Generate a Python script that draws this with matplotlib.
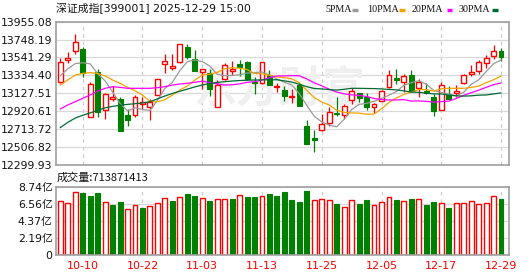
import matplotlib
matplotlib.use('Agg')
import matplotlib.pyplot as plt
import numpy as np
from matplotlib.lines import Line2D

plt.rcParams['font.family'] = ['DejaVu Sans', 'Noto Sans CJK SC']

# ---------------- data ----------------
dates = ['09-29', '09-30', '10-09', '10-10', '10-13', '10-14', '10-15', '10-16', '10-17', '10-20',
         '10-21', '10-22', '10-23', '10-24', '10-27', '10-28', '10-29', '10-30', '10-31', '11-03',
         '11-04', '11-05', '11-06', '11-07', '11-10', '11-11', '11-12', '11-13', '11-14', '11-17',
         '11-18', '11-19', '11-20', '11-21', '11-24', '11-25', '11-26', '11-27', '11-28', '12-01',
         '12-02', '12-03', '12-04', '12-05', '12-08', '12-09', '12-10', '12-11', '12-12', '12-15',
         '12-16', '12-17', '12-18', '12-19', '12-22', '12-23', '12-24', '12-25', '12-26', '12-29']

opens = [13262, 13515, 13614, 13637, 12852, 13369, 12932, 13062, 13059, 12879,
         12871, 13002, 12965, 13105, 13461, 13423, 13488, 13668, 13518, 13373,
         13357, 12967, 13288, 13388, 13465, 13488, 13254, 13243, 13338, 13200,
         13166, 13080, 13227, 12752, 12610, 12698, 12779, 12901, 12871, 13047,
         13128, 13082, 12963, 13039, 13197, 13300, 13262, 13338, 13185, 13158,
         13085, 12932, 13105, 13128, 13242, 13354, 13388, 13480, 13553, 13614]
highs = [13530, 13599, 13817, 13664, 13258, 13403, 13135, 13216, 13089, 12944,
         13101, 13087, 13055, 13292, 13580, 13580, 13702, 13702, 13626, 13407,
         13411, 13281, 13480, 13495, 13511, 13499, 13311, 13492, 13396, 13250,
         13212, 13173, 13242, 12813, 12706, 12890, 12964, 13082, 13001, 13185,
         13135, 13128, 13013, 13166, 13396, 13403, 13350, 13396, 13288, 13250,
         13120, 13258, 13212, 13223, 13350, 13449, 13511, 13572, 13687, 13656]
lows = [13243, 13472, 13576, 13319, 12848, 12848, 12825, 13036, 12687, 12744,
        12852, 12941, 12815, 13101, 13357, 13396, 13480, 13522, 13384, 13173,
        13097, 12963, 13281, 13338, 13327, 13281, 13120, 13235, 13223, 13143,
        13032, 13013, 12974, 12534, 12446, 12691, 12748, 12859, 12829, 13005,
        13020, 12936, 12898, 13032, 13193, 13235, 13147, 13147, 13089, 13124,
        12859, 12928, 13062, 13082, 13235, 13327, 13350, 13419, 13526, 13503]
closes = [13484, 13530, 13725, 13365, 13231, 12909, 13120, 13085, 12695, 12813,
          13082, 13020, 13024, 13288, 13495, 13442, 13695, 13541, 13388, 13403,
          13181, 13223, 13449, 13411, 13434, 13288, 13246, 13488, 13227, 13212,
          13098, 13090, 12982, 12541, 12591, 12771, 12910, 12882, 12978, 13151,
          13070, 12967, 12997, 13151, 13334, 13285, 13327, 13154, 13262, 13128,
          12917, 13220, 13066, 13151, 13334, 13377, 13488, 13534, 13614, 13549]

ma5 = [13330, 13410, 13470, 13480, 13467, 13352, 13270, 13142, 13008, 12924,
       12959, 12939, 12927, 13045, 13182, 13254, 13389, 13492, 13512, 13494,
       13442, 13347, 13329, 13333, 13340, 13361, 13366, 13373, 13337, 13292,
       13254, 13223, 13122, 12985, 12860, 12795, 12759, 12739, 12826, 12938,
       12998, 13010, 13033, 13067, 13104, 13147, 13219, 13250, 13272, 13231,
       13158, 13136, 13119, 13096, 13138, 13230, 13283, 13377, 13469, 13512]
ma10 = [13222, 13280, 13338, 13357, 13365, 13357, 13327, 13280, 13242, 13196,
        13156, 13105, 13034, 13027, 13053, 13106, 13164, 13210, 13279, 13338,
        13348, 13368, 13411, 13423, 13417, 13401, 13356, 13351, 13335, 13316,
        13308, 13294, 13248, 13161, 13076, 13025, 12991, 12930, 12906, 12899,
        12897, 12884, 12886, 12947, 13021, 13073, 13114, 13141, 13170, 13168,
        13152, 13178, 13184, 13184, 13184, 13194, 13210, 13248, 13283, 13325]
ma20 = [12945, 12991, 13030, 13068, 13107, 13153, 13184, 13203, 13195, 13184,
        13184, 13184, 13184, 13192, 13203, 13222, 13234, 13242, 13253, 13267,
        13252, 13236, 13222, 13225, 13235, 13254, 13260, 13280, 13307, 13327,
        13328, 13331, 13329, 13292, 13247, 13213, 13174, 13141, 13120, 13108,
        13102, 13089, 13067, 13054, 13049, 13049, 13053, 13036, 13038, 13033,
        13024, 13031, 13035, 13066, 13103, 13133, 13162, 13195, 13226, 13246]
ma30 = [12730, 12790, 12840, 12872, 12900, 12930, 12958, 12975, 12988, 12998,
        13006, 13014, 13030, 13062, 13095, 13125, 13150, 13175, 13200, 13222,
        13240, 13252, 13261, 13268, 13274, 13278, 13280, 13282, 13283, 13283,
        13270, 13256, 13231, 13203, 13182, 13177, 13170, 13164, 13173, 13184,
        13184, 13182, 13181, 13177, 13171, 13166, 13154, 13141, 13137, 13128,
        13119, 13119, 13106, 13097, 13094, 13097, 13105, 13107, 13119, 13131]

# volume in 亿 (1e8)
volumes = [6.91, 6.66, 8.06, 7.97, 7.55, 7.97, 6.78, 6.44, 6.78, 5.89,
           6.36, 6.06, 6.27, 6.66, 7.30, 6.95, 7.42, 7.85, 7.55, 7.30,
           6.95, 7.13, 7.13, 7.17, 7.68, 7.47, 7.47, 7.55, 7.81, 7.55,
           8.06, 7.04, 6.78, 8.19, 7.00, 7.13, 7.00, 6.53, 6.10, 7.00,
           6.53, 7.04, 6.36, 6.74, 7.38, 7.04, 6.87, 7.17, 7.13, 6.40,
           6.78, 6.66, 6.02, 6.61, 6.66, 6.87, 6.53, 6.66, 7.51, 7.14]
last_volume_text = '713871413'

price_ticks = [12299.93, 12506.82, 12713.72, 12920.61, 13127.51, 13334.40, 13541.29, 13748.19, 13955.08]
price_tick_labels = ['12299.93', '12506.82', '12713.72', '12920.61', '13127.51', '13334.40', '13541.29', '13748.19', '13955.08']
vol_ticks = [0, 2.19, 4.37, 6.56, 8.74]
vol_tick_labels = ['0', '2.19亿', '4.37亿', '6.56亿', '8.74亿']
date_tick_idx = [3, 11, 19, 27, 35, 43, 51, 59]

title_text = '深证成指[399001] 2025-12-29 15:00'
legend_labels = ['5PMA', '10PMA', '20PMA', '30PMA']

# ---------------- style ----------------
RED = '#ff0000'
GREEN = '#008000'
MA_COLORS = ['#9a9a9a', '#f5a300', '#ff00ff', '#006a35']
SPINE = '#a0a0a0'
W, H = 530, 276

o = np.array(opens, float); h = np.array(highs, float)
l = np.array(lows, float); c = np.array(closes, float)
v = np.array(volumes, float)
n = len(c)
x = np.arange(n)
up = c >= o
prev = np.concatenate([[o[0]], c[:-1]])
vup = c >= prev

fig = plt.figure(figsize=(W / 100, H / 100), dpi=100)
fig.patch.set_facecolor('white')

def px_axes(left, top, right, bottom):
    return fig.add_axes([left / W, 1 - bottom / H, (right - left) / W, (bottom - top) / H])

ax = px_axes(56, 21.7, 509, 164.7)
axv = px_axes(56, 186.7, 509, 255)

xlim = (-0.58, 60.07)
for a in (ax, axv):
    a.set_xlim(*xlim)
    for s in a.spines.values():
        s.set_color(SPINE)
        s.set_linewidth(1.2)
        s.set_zorder(6)
    a.set_axisbelow(True)
    a.set_xticks(date_tick_idx)
    a.xaxis.grid(True, color='#cccccc', linestyle=(0, (3, 3)), linewidth=0.9)
    a.yaxis.grid(True, color='#d9d9d9', linestyle='-', linewidth=0.9)
    a.tick_params(length=0, labelsize=7.8, colors='#111111', pad=2.4)

# ---- price panel ----
ax.set_ylim(price_ticks[0], price_ticks[-1])
ax.set_yticks(price_ticks)
ax.set_yticklabels(price_tick_labels)
ax.set_xticklabels([])

ax.text(29.3, 13170, '东方财富', fontsize=31, color='#efefef', ha='center', va='center',
        fontweight='bold', family=['Noto Sans CJK SC'], zorder=1)

wick_colors = np.where(up, RED, GREEN)
ax.vlines(x, l, h, colors=wick_colors, linewidth=0.9, zorder=2)
bw = 0.66
ax.bar(x[up], (c - o)[up], bottom=o[up], width=bw, facecolor='white', edgecolor=RED,
       linewidth=1.0, zorder=3)
ax.bar(x[~up], (o - c)[~up], bottom=c[~up], width=bw, facecolor=GREEN, edgecolor=GREEN,
       linewidth=0.8, zorder=3)

for series, col in zip([ma5, ma10, ma20, ma30], MA_COLORS):
    ax.plot(x, series, color=col, linewidth=0.9, zorder=4)

# ---- volume panel ----
axv.set_ylim(vol_ticks[0], vol_ticks[-1])
axv.set_yticks(vol_ticks)
axv.set_yticklabels(vol_tick_labels)
axv.set_xticklabels([dates[i] for i in date_tick_idx])
axv.tick_params(axis='x', colors=RED, labelsize=8, pad=4.2)
axv.tick_params(axis='y', labelcolor='#111111')
axv.bar(x[vup], v[vup], width=bw, facecolor='white', edgecolor=RED, linewidth=1.0, zorder=3)
axv.bar(x[~vup], v[~vup], width=bw, facecolor=GREEN, edgecolor=GREEN, linewidth=0.8, zorder=3)

# ---- texts ----
fig.text(56 / W, 1 - 8.5 / H, title_text, fontsize=7.8, ha='left', va='center', color='#111111')
fig.text(57 / W, 1 - 178 / H, '成交量:' + last_volume_text, fontsize=8, ha='left', va='center',
         color='#111111', family=['Noto Sans CJK SC', 'DejaVu Sans'])

leg_text_x = [325, 366.7, 411.7, 458.3]
leg_dash_x = [352.3, 399, 446.7, 492.3]
for lab, tx, dx, col in zip(legend_labels, leg_text_x, leg_dash_x, MA_COLORS):
    fig.text(tx / W, 1 - 9 / H, lab, fontsize=7.2, ha='left', va='center', color='#111111',
             family=['Liberation Serif'])
    fig.add_artist(Line2D([dx / W, (dx + 5.5) / W], [1 - 9.5 / H, 1 - 9.5 / H], color=col,
                          linewidth=2.4, solid_capstyle='butt'))

fig.savefig('out.png', dpi=100, facecolor='white')
